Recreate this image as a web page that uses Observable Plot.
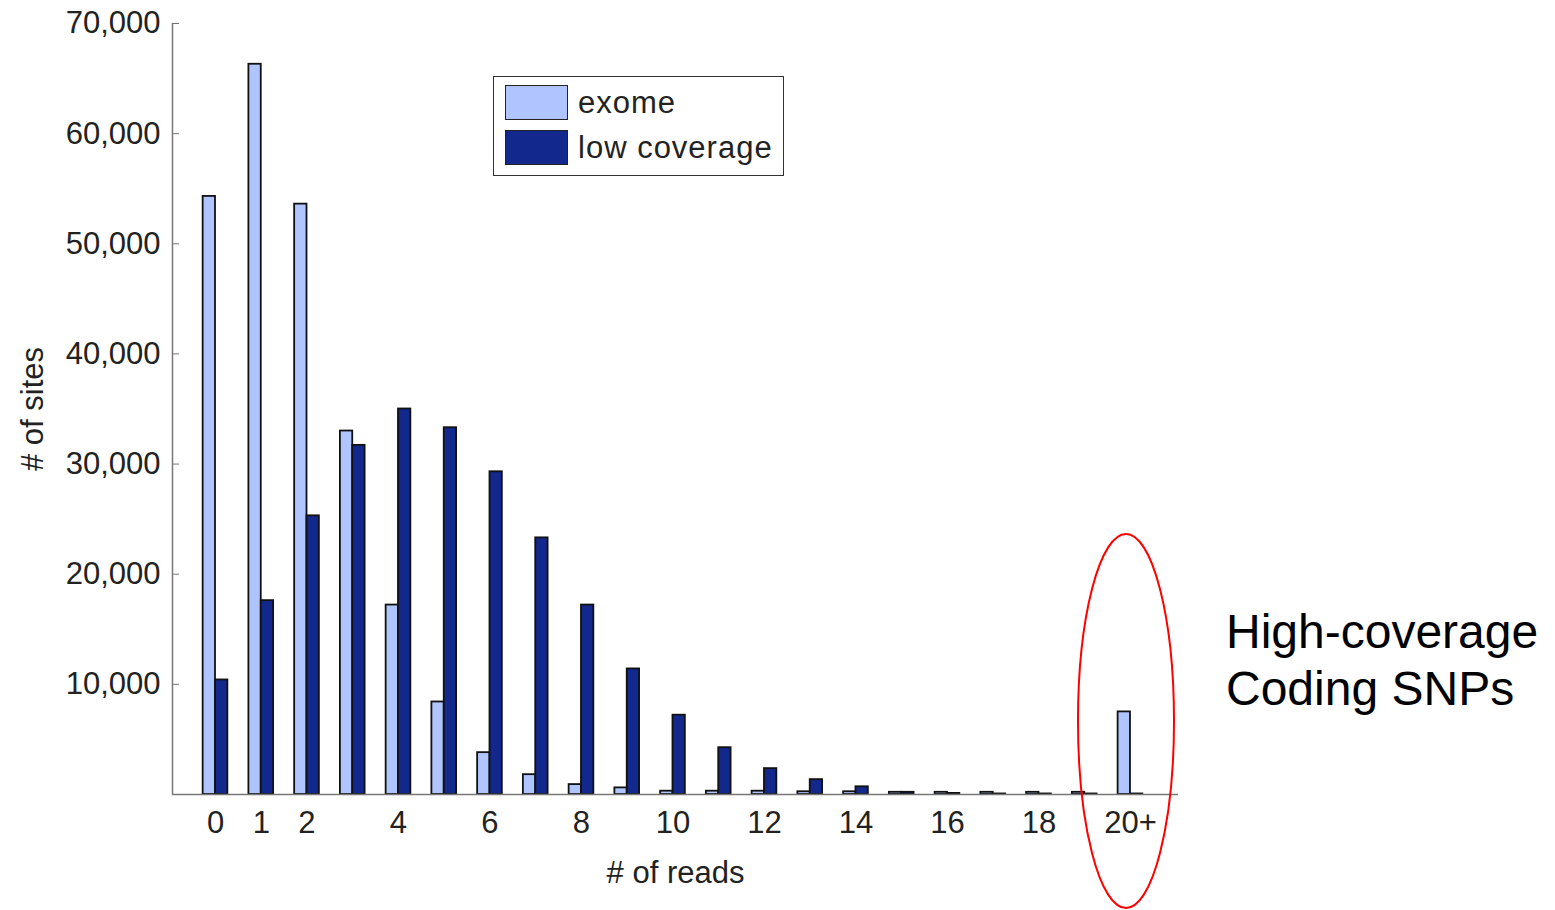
<!DOCTYPE html>
<html>
<head>
<meta charset="utf-8">
<script src="https://cdn.jsdelivr.net/npm/d3@7"></script>
<script src="https://cdn.jsdelivr.net/npm/@observablehq/plot@0.6"></script>
<style>
  html, body { margin: 0; padding: 0; background: #fff; }
  #wrap { position: relative; width: 1555px; height: 910px; overflow: hidden; font-family: "Liberation Sans", Arial, Helvetica, sans-serif; }
  #chart { position: absolute; left: 0; top: 0; }
  #legend { position: absolute; left: 493px; top: 76px; width: 289px; height: 98px; border: 1.5px solid #333; background: #fff; }
  .lg-row { position: absolute; left: 11px; height: 35px; display: flex; align-items: center; }
  .lg-sw { width: 63px; height: 35px; border: 1.5px solid #222; box-sizing: border-box; margin-right: 10px; }
  .lg-tx { font-size: 31px; color: #222; line-height: 1; letter-spacing: 1px; }
  #annot { position: absolute; left: 0; top: 0; }
</style>
</head>
<body>
<div id="wrap">
  <div id="chart"></div>
  <div id="legend"></div>
  <svg id="annot" width="1555" height="910"></svg>
</div>
<script>
// ---- data ----
const categories = ["0","1","2","3","4","5","6","7","8","9","10","11","12","13","14","15","16","17","18","19","20+"];
const exome       = [54300, 66300, 53600, 33000, 17200, 8400, 3800, 1800, 900, 600, 300, 300, 300, 250, 250, 200, 200, 200, 200, 200, 7500];
const lowCoverage = [10400, 17600, 25300, 31700, 35000, 33300, 29300, 23300, 17200, 11400, 7200, 4250, 2350, 1350, 700, 200, 100, 50, 50, 50, 50];
const seriesNames = ["exome", "low coverage"];
const seriesColors = ["#b0c4ff", "#13288c"];
const xTickValues = [0, 1, 2, 4, 6, 8, 10, 12, 14, 16, 18, 20];
const xTickLabels = ["0","1","2","4","6","8","10","12","14","16","18","20+"];
const yTicks = [10000, 20000, 30000, 40000, 50000, 60000, 70000];
const annotationLines = ["High-coverage", "Coding SNPs"];

// ---- build table ----
const rows = categories.map((c, i) => ({i, category: c, exome: exome[i], low: lowCoverage[i]}));
const barW = 0.27;
const xDomain = [-0.94, 21.05];
const labelOf = new Map(xTickValues.map((v, k) => [v, xTickLabels[k]]));

const plot = Plot.plot({
  width: 1555,
  height: 910,
  marginLeft: 172,
  marginRight: 377,
  marginTop: 23,
  marginBottom: 116,
  style: {fontFamily: "'Liberation Sans', Arial, Helvetica, sans-serif", fontSize: "31px", color: "#222", background: "transparent"},
  x: {type: "linear", domain: xDomain},
  y: {domain: [0, 70000]},
  marks: [
    Plot.rect(rows, {x1: d => d.i - barW, x2: d => d.i, y1: 0, y2: "exome", fill: seriesColors[0], stroke: "#111", strokeWidth: 1.8}),
    Plot.rect(rows, {x1: d => d.i, x2: d => d.i + barW, y1: 0, y2: "low", fill: seriesColors[1], stroke: "#111", strokeWidth: 1.8}),
    Plot.ruleY([0], {stroke: "#777", strokeWidth: 1.5}),
    Plot.ruleX([xDomain[0]], {stroke: "#777", strokeWidth: 1.5}),
    Plot.axisY({ticks: yTicks, tickFormat: d3.format(","), tickSize: -7, tickPadding: 19, stroke: "#777", fontSize: 31,
      label: "# of sites", labelAnchor: "center", labelOffset: 152, labelArrow: false}),
    Plot.axisX({ticks: xTickValues, tickFormat: d => labelOf.get(d), tickSize: 0, tickPadding: 16, fontSize: 31,
      label: "# of reads", labelAnchor: "center", labelOffset: 88, labelArrow: false})
  ]
});
document.getElementById("chart").appendChild(plot);

// ---- legend ----
const legend = document.getElementById("legend");
seriesNames.forEach((name, k) => {
  const row = document.createElement("div");
  row.className = "lg-row";
  row.style.top = (8 + k * 45) + "px";
  const sw = document.createElement("div");
  sw.className = "lg-sw";
  sw.style.background = seriesColors[k];
  const tx = document.createElement("span");
  tx.className = "lg-tx";
  tx.textContent = name;
  row.appendChild(sw); row.appendChild(tx);
  legend.appendChild(row);
});

// ---- annotation (red ellipse + text) ----
const annot = d3.select("#annot");
annot.append("ellipse").attr("cx", 1126).attr("cy", 721).attr("rx", 48).attr("ry", 187)
  .attr("fill", "none").attr("stroke", "#ff0000").attr("stroke-width", 2);
annot.selectAll("text.an").data(annotationLines).join("text")
  .attr("class", "an")
  .attr("x", 1226).attr("y", (d, k) => 648 + k * 57)
  .attr("font-family", "'Liberation Sans', Arial, sans-serif").attr("font-size", 48).attr("fill", "#000")
  .text(d => d);
</script>
</body>
</html>
